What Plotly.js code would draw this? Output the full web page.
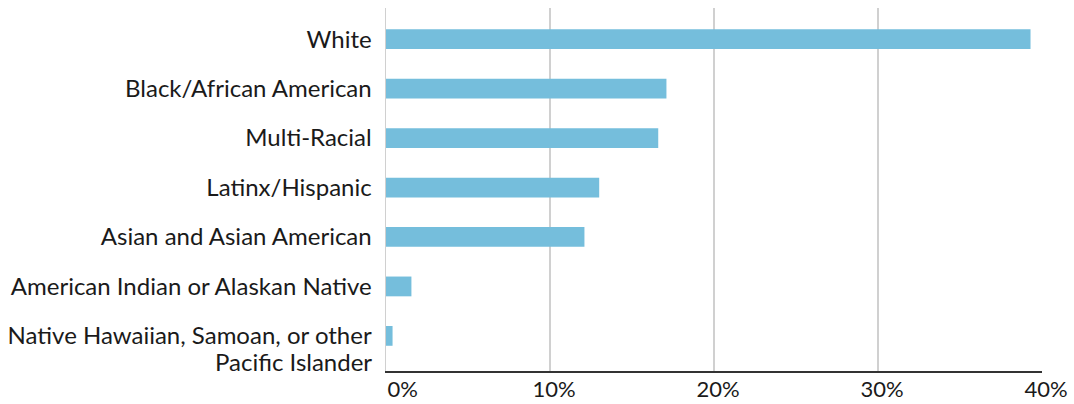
<!DOCTYPE html>
<html>
<head>
<meta charset="utf-8">
<script src="https://cdn.plot.ly/plotly-3.0.1.min.js"></script>
<style>html,body{margin:0;padding:0;background:#fff;}#chart{width:1074px;height:404px;}</style>
</head>
<body>
<div id="chart"></div>
<script>
// Categories listed bottom to top
const categories = [
  "Native Hawaiian, Samoan, or other Pacific Islander",
  "American Indian or Alaskan Native",
  "Asian and Asian American",
  "Latinx/Hispanic",
  "Multi-Racial",
  "Black/African American",
  "White"
];
// First line of each label (drawn as tick labels)
const categoryLabels = [
  "Native Hawaiian, Samoan, or other",
  "American Indian or Alaskan Native",
  "Asian and Asian American",
  "Latinx/Hispanic",
  "Multi-Racial",
  "Black/African American",
  "White"
];
// Continuation lines of wrapped labels
const categoryLabelsLine2 = ["Pacific Islander", "", "", "", "", "", ""];
const shares = [0.4, 1.55, 12.1, 13.0, 16.6, 17.1, 39.3];
const xTickVals = [0, 10, 20, 30, 40];
const xTickText = ["\u2007\u20070%", "10%", "20%", "30%", "40%"];

const trace = {
  type: "bar",
  orientation: "h",
  y: categories,
  x: shares,
  width: 0.4,
  marker: {color: "#75BEDC"},
  hoverinfo: "x+y"
};

const annotations = [];
categories.forEach((c, i) => {
  if (categoryLabelsLine2[i]) {
    annotations.push({
      xref: "paper", yref: "y",
      x: 0, y: c,
      xanchor: "right", yanchor: "middle",
      xshift: -12, yshift: -26,
      showarrow: false,
      text: categoryLabelsLine2[i],
      font: {size: 24, color: "#1a1a1a"}
    });
  }
});

const layout = {
  width: 1074,
  height: 404,
  margin: {l: 386, r: 32, t: 8, b: 33},
  paper_bgcolor: "#ffffff",
  plot_bgcolor: "#ffffff",
  font: {family: "Lato, 'Open Sans', sans-serif", size: 24, color: "#1a1a1a"},
  showlegend: false,
  bargap: 0.6,
  annotations: annotations,
  xaxis: {
    range: [0, 40],
    tickvals: xTickVals,
    ticktext: xTickText,
    showgrid: true,
    gridcolor: "#d0d0d0",
    gridwidth: 1.5,
    zeroline: false,
    showline: true,
    linecolor: "#333333",
    linewidth: 1.5,
    ticks: "",
    ticklabelshift: 4,
    ticklabelstandoff: -2,
    tickfont: {size: 22, color: "#1a1a1a"},
    fixedrange: true
  },
  yaxis: {
    type: "category",
    categoryorder: "array",
    categoryarray: categories,
    tickvals: categories,
    ticktext: categoryLabels,
    range: [-0.71, 6.63],
    showgrid: false,
    zeroline: false,
    showline: true,
    linecolor: "#d0d0d0",
    linewidth: 1.5,
    ticks: "",
    ticklabelstandoff: 8,
    tickfont: {size: 24, color: "#1a1a1a"},
    fixedrange: true
  }
};

Plotly.newPlot("chart", [trace], layout, {displayModeBar: false, staticPlot: true});
</script>
</body>
</html>
